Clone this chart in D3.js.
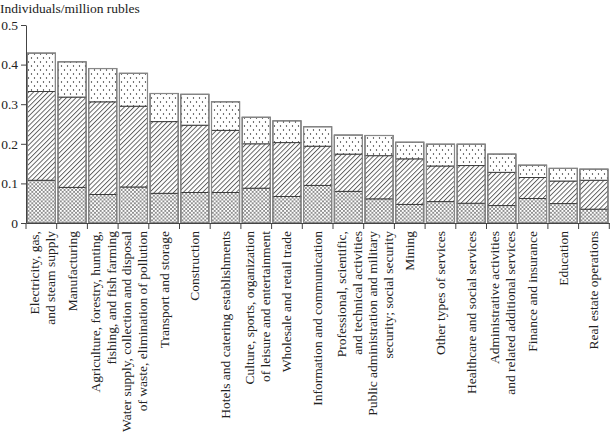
<!DOCTYPE html>
<html>
<head>
<meta charset="utf-8">
<script src="https://cdn.jsdelivr.net/npm/d3@7"></script>
<style>
  html, body { margin: 0; padding: 0; background: #fff; }
  svg { display: block; }
</style>
</head>
<body>
<svg id="chart" width="611" height="435"></svg>
<script>
// ---- data ----
const categories = [
  "Electricity, gas, and steam supply",
  "Manufacturing",
  "Agriculture, forestry, hunting, fishing, and fish farming",
  "Water supply, collection and disposal of waste, elimination of pollution",
  "Transport and storage",
  "Construction",
  "Hotels and catering establishments",
  "Culture, sports, organization of leisure and entertainment",
  "Wholesale and retail trade",
  "Information and communication",
  "Professional, scientific, and technical activities",
  "Public administration and military security; social security",
  "Mining",
  "Other types of services",
  "Healthcare and social services",
  "Administrative activities and related additional services",
  "Finance and insurance",
  "Education",
  "Real estate operations"
];
const labelLines = [
  ["Electricity, gas,", "and steam supply"],
  ["Manufacturing"],
  ["Agriculture, forestry, hunting,", "fishing, and fish farming"],
  ["Water supply, collection and disposal", "of waste, elimination of pollution"],
  ["Transport and storage"],
  ["Construction"],
  ["Hotels and catering establishments"],
  ["Culture, sports, organization", "of leisure and entertainment"],
  ["Wholesale and retail trade"],
  ["Information and communication"],
  ["Professional, scientific,", "and technical activities"],
  ["Public administration and military", "security; social security"],
  ["Mining"],
  ["Other types of services"],
  ["Healthcare and social services"],
  ["Administrative activities", "and related additional services"],
  ["Finance and insurance"],
  ["Education"],
  ["Real estate operations"]
];
const seriesBottom = [0.108, 0.090, 0.072, 0.091, 0.075, 0.077, 0.077, 0.088, 0.067, 0.095, 0.080, 0.061, 0.047, 0.054, 0.050, 0.044, 0.062, 0.049, 0.035];
const seriesMiddle = [0.224, 0.228, 0.234, 0.204, 0.181, 0.170, 0.157, 0.112, 0.136, 0.099, 0.094, 0.109, 0.115, 0.090, 0.095, 0.084, 0.053, 0.057, 0.073];
const seriesTop    = [0.097, 0.089, 0.084, 0.083, 0.071, 0.078, 0.072, 0.067, 0.055, 0.049, 0.048, 0.051, 0.042, 0.055, 0.054, 0.046, 0.031, 0.032, 0.028];
const yTicks = [0, 0.1, 0.2, 0.3, 0.4, 0.5];
const yTitle = "Individuals/million rubles";

// ---- build ----
const FONT = '"Liberation Serif", "Times New Roman", serif';
const svg = d3.select("#chart");
const mLeft = 26, mRight = 609.3, mBottom = 223, mTop = 25;

const rows = categories.map((c, i) => ({cat: c, a: seriesBottom[i], b: seriesMiddle[i], c: seriesTop[i]}));
const keys = ["a", "b", "c"];
const stacked = d3.stack().keys(keys)(rows);

const x = d3.scaleBand().domain(categories).range([mLeft, mRight]).paddingInner(0.085).paddingOuter(0.0425);
const y = d3.scaleLinear().domain([0, 0.5]).range([mBottom, mTop]);

// patterns
const defs = svg.append("defs");
const pc = defs.append("pattern").attr("id", "p-cross").attr("patternUnits", "userSpaceOnUse")
  .attr("width", 3.8).attr("height", 3.8);
pc.append("rect").attr("width", 3.8).attr("height", 3.8).attr("fill", "#fff");
pc.append("path").attr("d", "M0,0 L3.8,3.8 M3.8,0 L0,3.8").attr("stroke", "#666").attr("stroke-width", 0.7);

const ph = defs.append("pattern").attr("id", "p-hatch").attr("patternUnits", "userSpaceOnUse")
  .attr("width", 3.4).attr("height", 3.4).attr("patternTransform", "rotate(45)");
ph.append("rect").attr("width", 3.4).attr("height", 3.4).attr("fill", "#fff");
ph.append("line").attr("x1", 0.5).attr("y1", 0).attr("x2", 0.5).attr("y2", 3.4).attr("stroke", "#333").attr("stroke-width", 0.75);

const pd = defs.append("pattern").attr("id", "p-dots").attr("patternUnits", "userSpaceOnUse")
  .attr("width", 6).attr("height", 8);
pd.append("rect").attr("width", 6).attr("height", 8).attr("fill", "#fff");
pd.append("circle").attr("cx", 1.5).attr("cy", 2).attr("r", 0.65).attr("fill", "#222");
pd.append("circle").attr("cx", 4.5).attr("cy", 6).attr("r", 0.65).attr("fill", "#222");

const fills = {a: "url(#p-cross)", b: "url(#p-hatch)", c: "url(#p-dots)"};

// bars
const g = svg.append("g");
stacked.forEach(s => {
  g.append("g").selectAll("rect").data(s).join("rect")
    .attr("x", d => x(d.data.cat))
    .attr("y", d => y(d[1]))
    .attr("width", x.bandwidth())
    .attr("height", d => y(d[0]) - y(d[1]))
    .attr("fill", fills[s.key])
    .attr("stroke", "#333")
    .attr("stroke-width", 0.9);
});
// outer outline
g.append("g").selectAll("rect").data(stacked[2]).join("rect")
  .attr("x", d => x(d.data.cat))
  .attr("y", d => y(d[1]))
  .attr("width", x.bandwidth())
  .attr("height", d => y(0) - y(d[1]))
  .attr("fill", "none")
  .attr("stroke", "#888")
  .attr("stroke-width", 1.2);

// y axis
const yAxis = svg.append("g").attr("transform", `translate(${mLeft},0)`)
  .call(d3.axisLeft(y).tickValues(yTicks).tickSize(5).tickSizeOuter(0)
    .tickFormat(d => d === 0 ? "0" : d3.format(".1f")(d)));
yAxis.select(".domain").attr("stroke", "#444");
yAxis.selectAll(".tick line").attr("stroke", "#444");
yAxis.selectAll(".tick text").style("font-family", FONT).style("font-size", "13.5px")
  .attr("fill", "#222").attr("x", -8);

// x axis
const xAxis = svg.append("g").attr("transform", `translate(0,${mBottom})`)
  .call(d3.axisBottom(x).tickSize(0).tickSizeOuter(0).tickFormat(""));
xAxis.select(".domain").attr("stroke", "#444");
const step = x.step();
const boundaries = d3.range(categories.length + 1).map(i => x.range()[0] + i * step);
xAxis.selectAll("line.bnd").data(boundaries).join("line").attr("class", "bnd")
  .attr("x1", d => d).attr("x2", d => d).attr("y1", 0).attr("y2", 6)
  .attr("stroke", "#444");

// x labels
const lab = svg.append("g");
categories.forEach((c, i) => {
  const lines = labelLines[i];
  const cx = x(c) + x.bandwidth() / 2;
  const t = lab.append("text")
    .attr("transform", `translate(${cx},231) rotate(-90)`)
    .attr("text-anchor", "end")
    .attr("fill", "#222")
    .style("font-family", FONT)
    .style("font-size", "13.5px");
  const sp = 16;
  lines.forEach((ln, j) => {
    const off = (j - (lines.length - 1) / 2) * sp + 4.5 + (lines.length > 1 ? 1 : 0);
    t.append("tspan").attr("x", 0).attr("y", off).text(ln);
  });
});

// title
svg.append("text").attr("x", 0).attr("y", 13).attr("fill", "#222")
  .style("font-family", FONT).style("font-size", "13.5px").text(yTitle);
</script>
</body>
</html>
